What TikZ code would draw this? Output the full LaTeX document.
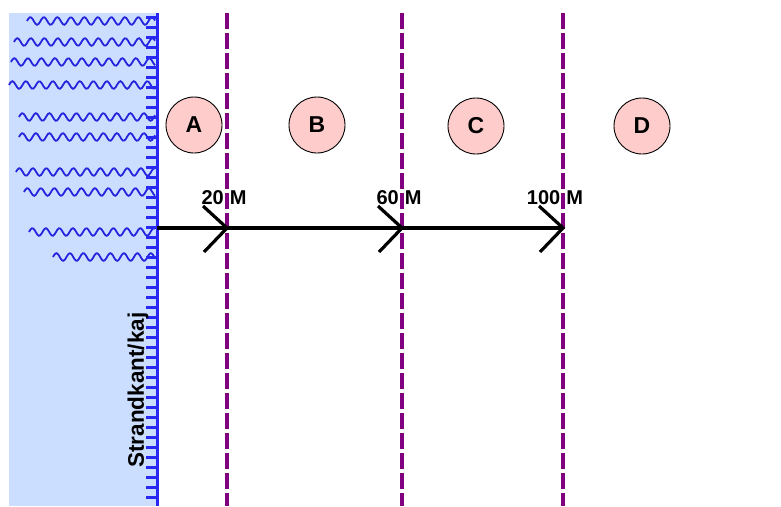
\documentclass[tikz,border=0pt]{standalone}
\usepackage{fontspec}
\setmainfont{Liberation Sans}
\definecolor{seafill}{RGB}{204,222,255}
\definecolor{shoreblue}{RGB}{40,40,245}
\definecolor{zonepurple}{RGB}{128,0,128}
\definecolor{zonepink}{RGB}{255,204,204}
\begin{document}
\begin{tikzpicture}[x=1pt,y=-1pt,
  wave/.style={shoreblue!90!black,line width=1.8pt},
  zoneline/.style={zonepurple,line width=3.3pt,dash pattern=on 16pt off 4pt},
  zone/.style={circle,draw=black,line width=0.9pt,fill=zonepink,minimum size=56pt,inner sep=0pt,font=\fontsize{23}{23}\selectfont\bfseries},
  dist/.style={font=\fontsize{20}{20}\selectfont\bfseries,inner sep=0pt,anchor=base},
  distline/.style={black,line width=3.2pt},
  chev/.style={black,line width=3.2pt}]
\useasboundingbox (0,0) rectangle (781,506);
% sea
\fill[seafill] (9,13) rectangle (157,506);
% waves
\foreach \yy/\xs in {21/27,42/14,62/11,85/9,117/19,137/19,172/16,192/24,232/29,257/53}{
  \draw[wave] plot[domain=\xs:155,samples=90,smooth] (\x,{\yy-3.8*sin(((\x-\xs)/13.5)*360)});
}
% shore line with ticks
\foreach \t in {17,27,...,503}{
  \draw[shoreblue,line width=3pt] (146,\t) -- (157,\t);
}
\coordinate (shoretop) at (157.5,13);
\coordinate (shorebot) at (157.5,506);
\draw[shoreblue,line width=3.8pt] (shoretop) -- (shorebot);
\node[rotate=90,font=\fontsize{22.5}{22.5}\selectfont\bfseries,inner sep=0pt] (shorelabel) at (138,390) {Strandkant/kaj};
% zone lines
\foreach \n/\xx in {l20/227,l60/402,l100/563}{
  \coordinate (\n top) at (\xx,13);
  \coordinate (\n bot) at (\xx,506);
  \draw[zoneline] (\n top) -- (\n bot);
}
% zone circles
\node[zone] (A) at (194,125) {A};
\node[zone] (B) at (317,125) {B};
\node[zone] (C) at (476,126) {C};
\node[zone] (D) at (642,126) {D};
% distance labels
\node[dist] (t20) at (224,204) {20\hspace{6pt}M};
\node[dist] (t60) at (399,204) {60\hspace{6pt}M};
\node[dist] (t100) at (555,204) {100\hspace{6pt}M};
% arrow
\coordinate (start) at (157,228);
\coordinate (p20) at (227,228);
\coordinate (p60) at (402,228);
\coordinate (p100) at (563,228);
\draw[distline] (start) -- (p100);
\foreach \p in {p20,p60,p100}{
  \draw[chev,line join=miter] ([shift={(-24,-22)}]\p) -- (\p) -- ([shift={(-23,24)}]\p);
}
\end{tikzpicture}
\end{document}
